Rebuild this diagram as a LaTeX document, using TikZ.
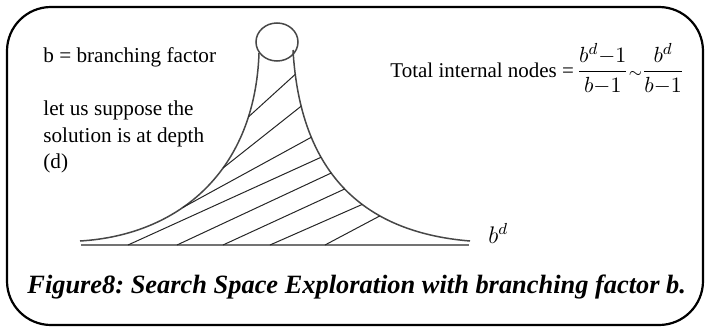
\documentclass[tikz,border=0pt]{standalone}
\usepackage{amsmath}
\usepackage{fontspec}
\setmainfont{Liberation Serif}
\frenchspacing
\begin{document}
\begin{tikzpicture}[x=0.5pt,y=-0.5pt,
  txt/.style={anchor=base west, inner sep=0pt, font=\fontsize{10.6}{13}\selectfont},
  captxt/.style={anchor=base west, inner sep=0pt, font=\fontsize{13.2}{15}\selectfont\bfseries\itshape},
  curve/.style={draw=black!72, line width=0.75pt},
  baseln/.style={draw=black!55, line width=1.3pt},
  hatch/.style={draw=black!85, line width=0.5pt},
  frame/.style={draw=black, line width=1.1pt, rounded corners=22pt}]
\useasboundingbox (0,0) rectangle (719,327);
\draw[frame] (7,7) rectangle (703,325);

% root circle
\draw[curve] (277,42) ellipse [x radius=10.5pt, y radius=9.5pt];

% funnel sides
\draw[curve] (259,53) .. controls (255,170) and (180,235) .. (80,241)
  coordinate[pos=0.2] (L1) coordinate[pos=0.4] (L2) coordinate[pos=0.61] (L3);
\draw[curve] (293,50) .. controls (300,170) and (360,232) .. (470,241)
  coordinate[pos=0.07] (R1) coordinate[pos=0.17] (R2) coordinate[pos=0.28] (R3)
  coordinate[pos=0.36] (R4) coordinate[pos=0.43] (R5) coordinate[pos=0.51] (R6)
  coordinate[pos=0.60] (R7) coordinate[pos=0.68] (R8);

% base line
\coordinate (B0) at (81,245);
\coordinate (B9) at (469,245);
\coordinate (B4) at (128,245);
\coordinate (B5) at (177,245);
\coordinate (B6) at (223,245);
\coordinate (B7) at (270,245);
\coordinate (B8) at (325,245);
\draw[baseln] (B0) -- (B9);

% hatching
\draw[hatch] (R1) -- (L1);
\draw[hatch] (R2) -- (L2);
\draw[hatch] (R3) -- (L3);
\draw[hatch] (R4) -- (B4);
\draw[hatch] (R5) -- (B5);
\draw[hatch] (R6) -- (B6);
\draw[hatch] (R7) -- (B7);
\draw[hatch] (R8) -- (B8);

% texts
\node[txt] (bf) at (43,62) {b = branching factor};
\node[txt] (s1) at (43,115) {let us suppose the};
\node[txt] (s2) at (43,142) {solution is at depth};
\node[txt] (s3) at (43,168) {(d)};
\node[txt, font=\fontsize{10.5}{13}\selectfont] (tot) at (390,77)
  {\nulldelimiterspace=0pt Total internal nodes =\hspace{0.25em}{\fontsize{11.3}{13}\selectfont$\dfrac{b^{d}{-}1}{b{-}1}\mskip2mu{\scriptstyle\sim}\mskip2mu\dfrac{b^{d}}{b{-}1}$}};
\node[txt, font=\fontsize{11.5}{13}\selectfont] (bd) at (488,243) {$b^{d}$};
\node[captxt] (cap) at (27,293) {Figure8: Search Space Exploration with branching factor b.};
\end{tikzpicture}
\end{document}
